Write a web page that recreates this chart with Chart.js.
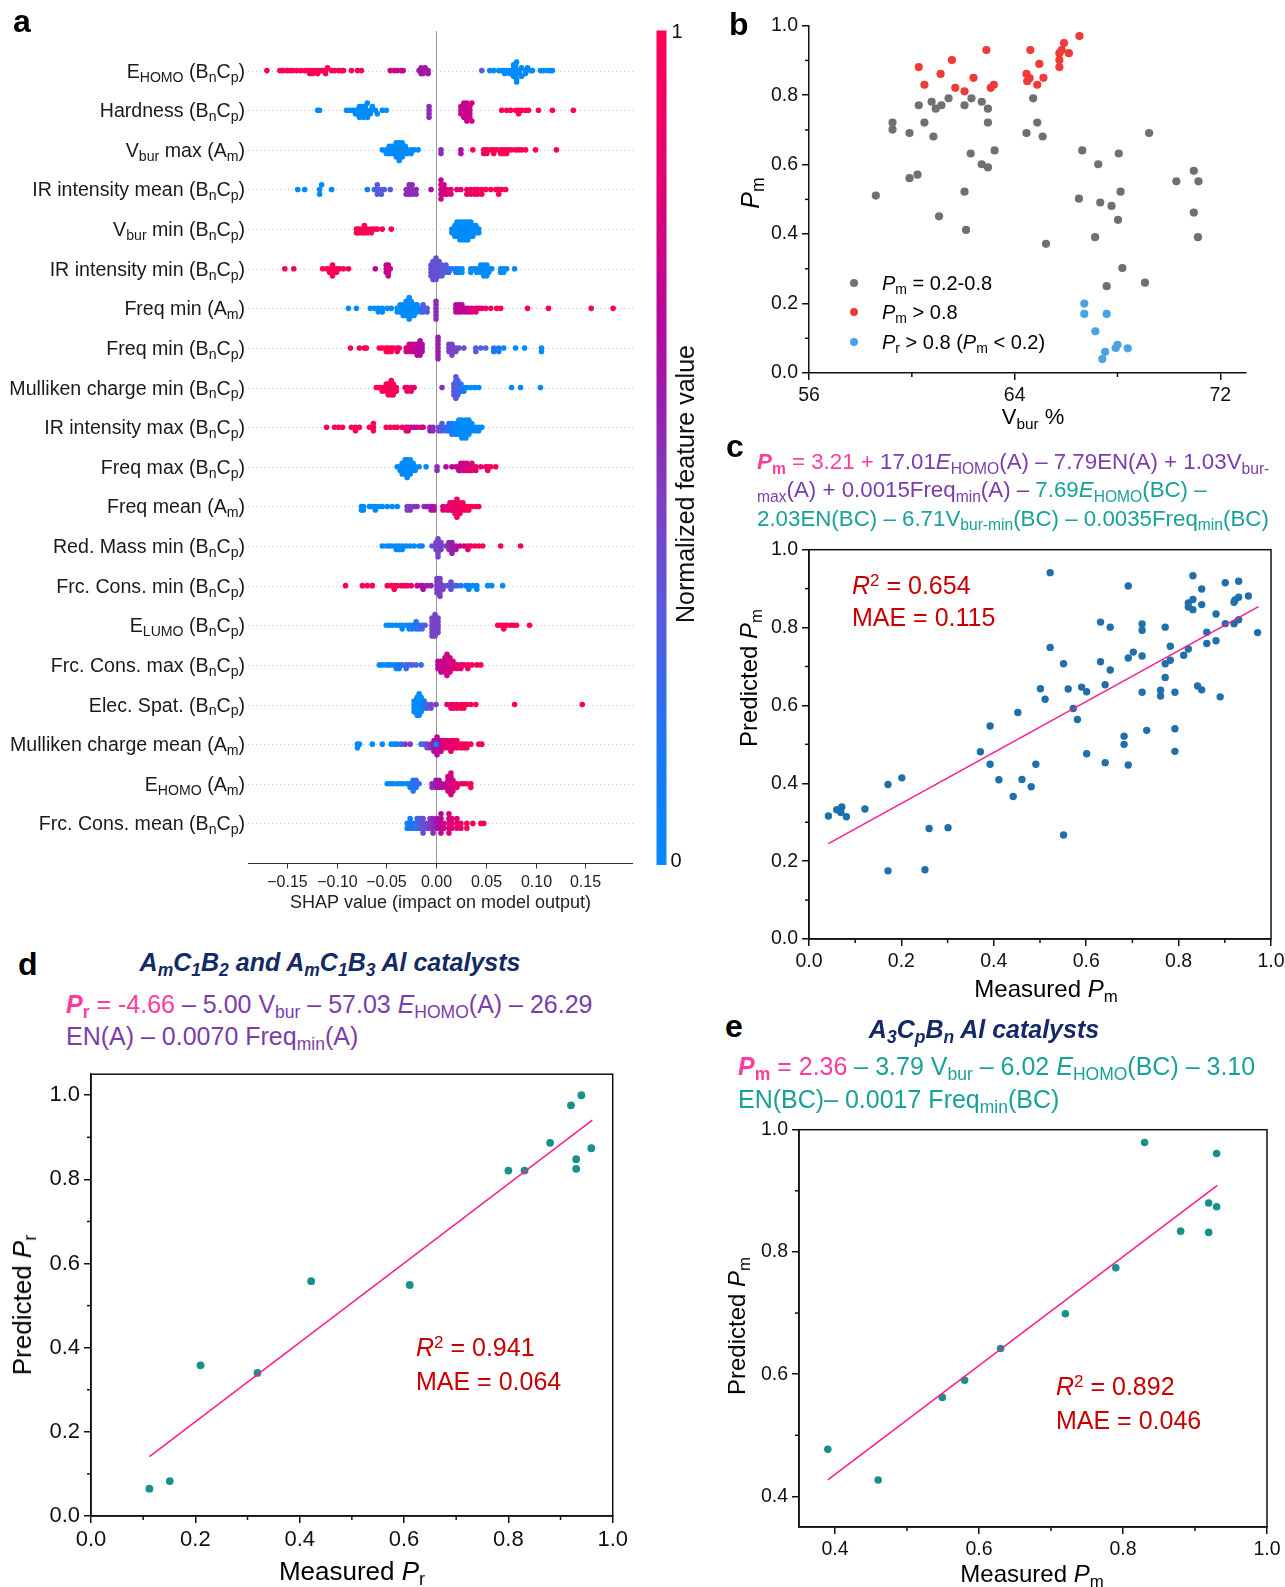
<!DOCTYPE html>
<html>
<head>
<meta charset="utf-8">
<script src="https://cdn.jsdelivr.net/npm/chart.js@4.4.1/dist/chart.umd.min.js"></script>
<style>
  body { margin: 0; background: #fff; }
  #fig { position: relative; width: 1285px; height: 1587px; overflow: hidden;
         font-family: 'Liberation Sans', Arial, sans-serif; color: #000; background: #fff; }
  canvas { position: absolute; }
  .t { position: absolute; white-space: nowrap; }
  .c { transform: translate(-50%, -50%); line-height: 1; }
  .rot { transform: translate(-50%, -50%) rotate(-90deg); line-height: 1; }
  .letter { font-weight: bold; font-size: 32px; line-height: 32px; }
  sub { font-size: 0.7em; vertical-align: baseline; position: relative; top: 0.3em; }
  sup { font-size: 0.68em; vertical-align: baseline; position: relative; top: -0.48em; }
  .pink { color: #ff3b9d; }
  .purple { color: #7c3cab; }
  .teal { color: #17a199; }
  .navy { color: #142a66; font-weight: bold; font-style: italic; font-size: 25px; }
  .rr { color: #c80000; font-size: 25px; }
  .dot { position: absolute; width: 8px; height: 8px; border-radius: 50%; }
</style>
</head>
<body>
<div id="fig">
  <canvas id="chartA"></canvas>
  <canvas id="chartB"></canvas>
  <canvas id="chartC"></canvas>
  <canvas id="chartD"></canvas>
  <canvas id="chartE"></canvas>

  <!-- panel letters -->
  <div class="t letter" style="left:13px;top:5px">a</div>
  <div class="t letter" style="left:729px;top:8px">b</div>
  <div class="t letter" style="left:726px;top:430px">c</div>
  <div class="t letter" style="left:18px;top:948px">d</div>
  <div class="t letter" style="left:725px;top:1010px">e</div>

  <!-- panel b labels + legend -->
  <div class="t rot" style="left:750px;top:193px;font-size:25px"><i>P</i><sub>m</sub></div>
  <div class="t c" style="left:1033px;top:417px;font-size:22px">V<sub>bur</sub> %</div>
  <span class="dot" style="left:850px;top:279px;background:#707070"></span>
  <span class="dot" style="left:850px;top:308px;background:#ee3b38"></span>
  <span class="dot" style="left:850px;top:338px;background:#4aa4e2"></span>
  <div class="t" style="left:882px;top:272px;font-size:20px;line-height:22px"><i>P</i><sub>m</sub> = 0.2-0.8</div>
  <div class="t" style="left:882px;top:301px;font-size:20px;line-height:22px"><i>P</i><sub>m</sub> &gt; 0.8</div>
  <div class="t" style="left:882px;top:331px;font-size:20px;line-height:22px"><i>P</i><sub>r</sub> &gt; 0.8 (<i>P</i><sub>m</sub> &lt; 0.2)</div>

  <!-- panel c -->
  <div class="t" style="left:757px;top:449px;font-size:22.3px;line-height:26.3px">
    <span class="pink"><b><i>P</i><sub>m</sub></b> = 3.21 + </span><span class="purple">17.01<i>E</i><sub>HOMO</sub>(A) – 7.79EN(A) + 1.03V<sub>bur-</sub></span><br>
    <span class="purple"><sub>max</sub>(A) + 0.0015Freq<sub>min</sub>(A) – </span><span class="teal">7.69<i>E</i><sub>HOMO</sub>(BC) –</span><br>
    <span class="teal">2.03EN(BC) – 6.71V<sub>bur-min</sub>(BC) – 0.0035Freq<sub>min</sub>(BC)</span>
  </div>
  <div class="t rr" style="left:852px;top:571px;line-height:29px"><i>R</i><sup>2</sup> = 0.654<br>MAE = 0.115</div>
  <div class="t c" style="left:1046px;top:989px;font-size:24px">Measured <i>P</i><sub>m</sub></div>
  <div class="t rot" style="left:749px;top:678px;font-size:24px">Predicted <i>P</i><sub>m</sub></div>

  <!-- panel d -->
  <div class="t c navy" style="left:330px;top:962px">A<sub>m</sub>C<sub>1</sub>B<sub>2</sub> and A<sub>m</sub>C<sub>1</sub>B<sub>3</sub> Al catalysts</div>
  <div class="t" style="left:66px;top:990px;font-size:25px;line-height:29px">
    <span class="pink"><b><i>P</i><sub>r</sub></b> = -4.66</span><span class="purple"> – 5.00 V<sub>bur</sub> – 57.03 <i>E</i><sub>HOMO</sub>(A) – 26.29</span><br>
    <span class="purple">EN(A) – 0.0070 Freq<sub>min</sub>(A)</span>
  </div>
  <div class="t rr" style="left:416px;top:1332px;line-height:31px"><i>R</i><sup>2</sup> = 0.941<br>MAE = 0.064</div>
  <div class="t c" style="left:352px;top:1571px;font-size:26px">Measured <i>P</i><sub>r</sub></div>
  <div class="t rot" style="left:22px;top:1305px;font-size:26px">Predicted <i>P</i><sub>r</sub></div>

  <!-- panel e -->
  <div class="t c navy" style="left:984px;top:1029px">A<sub>3</sub>C<sub>p</sub>B<sub>n</sub> Al catalysts</div>
  <div class="t" style="left:738px;top:1052px;font-size:25px;line-height:29.5px">
    <span class="pink"><b><i>P</i><sub>m</sub></b> = 2.36</span><span class="teal"> – 3.79 V<sub>bur</sub> – 6.02 <i>E</i><sub>HOMO</sub>(BC) – 3.10</span><br>
    <span class="teal">EN(BC)– 0.0017 Freq<sub>min</sub>(BC)</span>
  </div>
  <div class="t rr" style="left:1056px;top:1371px;line-height:30px"><i>R</i><sup>2</sup> = 0.892<br>MAE = 0.046</div>
  <div class="t c" style="left:1032px;top:1574px;font-size:24px">Measured <i>P</i><sub>m</sub></div>
  <div class="t rot" style="left:737px;top:1326px;font-size:24px">Predicted <i>P</i><sub>m</sub></div>
</div>

<script>
/* ================== DATA: panel a (SHAP beeswarm) ================== */
const featureLabels = [
  "E_{HOMO} (B_{n}C_{p})", "Hardness (B_{n}C_{p})", "V_{bur} max (A_{m})",
  "IR intensity mean (B_{n}C_{p})", "V_{bur} min (B_{n}C_{p})", "IR intensity min (B_{n}C_{p})",
  "Freq min (A_{m})", "Freq min (B_{n}C_{p})", "Mulliken charge min (B_{n}C_{p})",
  "IR intensity max (B_{n}C_{p})", "Freq max (B_{n}C_{p})", "Freq mean (A_{m})",
  "Red. Mass min (B_{n}C_{p})", "Frc. Cons. min (B_{n}C_{p})", "E_{LUMO} (B_{n}C_{p})",
  "Frc. Cons. max (B_{n}C_{p})", "Elec. Spat. (B_{n}C_{p})", "Mulliken charge mean (A_{m})",
  "E_{HOMO} (A_{m})", "Frc. Cons. mean (B_{n}C_{p})"
];
const shapTicks = [-0.15, -0.10, -0.05, 0, 0.05, 0.10, 0.15];
const shapTickLabels = ["\u22120.15", "\u22120.10", "\u22120.05", "0.00", "0.05", "0.10", "0.15"];

// each point: [SHAP value, normalized feature value, count]
const shapRows = [
  [[-0.170,1],[-0.157,1],[-0.154,1],[-0.150,1],[-0.147,1],[-0.144,1],[-0.140,0.98],[-0.136,1],[-0.132,1],[-0.129,0.98],[-0.127,1,2],[-0.124,1,2],[-0.121,1],[-0.119,0.97,2],[-0.116,1],[-0.114,1],[-0.111,0.97,2],[-0.109,1],[-0.105,1],[-0.102,0.97],[-0.098,1],[-0.095,1],[-0.093,1],[-0.085,1],[-0.079,1],[-0.075,0.97],
   [-0.046,0.75],[-0.042,0.75],[-0.039,0.72],[-0.035,0.72],[-0.033,0.72],
   [-0.017,0.6],[-0.015,0.58,3],[-0.013,0.58,2],[-0.011,0.6],[-0.008,0.6,2],
   [0.046,0.3],[0.054,0.05],[0.058,0],[0.063,0],[0.066,0],[0.069,0,2],[0.071,0],[0.074,0,2],[0.076,0,2],[0.078,0,3],[0.080,0,5],[0.081,0,3],[0.084,0,2],[0.086,0,2],[0.090,0,2],[0.092,0],[0.095,0],[0.097,0],[0.105,0],[0.108,0],[0.112,0],[0.115,0],[0.117,0]],
  [[-0.119,0],[-0.117,0],[-0.090,0],[-0.087,0],[-0.084,0],[-0.081,0,2],[-0.079,0,2],[-0.077,0,2],[-0.075,0,3],[-0.073,0,4],[-0.071,0,3],[-0.069,0,2],[-0.066,0,2],[-0.064,0],[-0.061,0],[-0.059,0],[-0.054,0],[-0.050,0],
   [-0.007,0.5,4],
   [0.025,0.72,3],[0.028,0.72,5],[0.031,0.72,6],[0.034,0.72,4],[0.036,0.75,2],
   [0.066,1],[0.071,1],[0.075,1],[0.080,1],[0.083,1,2],[0.086,1],[0.090,1],[0.093,1],[0.103,1],[0.117,1],[0.138,1]],
  [[-0.054,0],[-0.050,0,2],[-0.047,0,3],[-0.044,0,3],[-0.040,0,5],[-0.037,0,6],[-0.034,0,5],[-0.031,0,3],[-0.029,0,2],[-0.025,0,2],[-0.022,0],[-0.018,0],
   [0.005,0.5,2],[0.025,0.62,2],
   [0.037,1],[0.048,0.9,2],[0.051,0.95,2],[0.055,1],[0.058,1,2],[0.061,1],[0.065,1,2],[0.068,1,2],[0.071,1,2],[0.073,1],[0.076,1],[0.080,1],[0.083,1],[0.086,1],[0.090,1],[0.100,1],[0.121,1]],
  [[-0.139,0],[-0.132,0],[-0.117,0,2],[-0.115,0],[-0.105,0],
   [-0.069,0.1],[-0.062,0.25],[-0.059,0.3,3],[-0.055,0.3,2],[-0.052,0.3],[-0.046,0.3],
   [-0.030,0.5,2],[-0.027,0.5,3],[-0.024,0.5,3],[-0.020,0.5,2],[-0.005,0.62],
   [0.005,0.72,5],[0.008,0.75,3],[0.011,0.8,2],[0.015,0.82,2],[0.021,0.85],[0.025,0.88],[0.031,0.9,2],[0.035,0.92,2],[0.039,0.9,2],[0.042,0.95,2],[0.046,0.95,2],[0.050,1],[0.055,1],[0.060,1],[0.063,1,2],[0.066,1],[0.070,1]],
  [[-0.080,1,2],[-0.078,1,2],[-0.075,1,2],[-0.072,1,3],[-0.069,1,2],[-0.065,1,2],[-0.062,1],[-0.059,1],[-0.054,0.97],[-0.045,1],
   [0.016,0,2],[0.019,0,4],[0.021,0,5],[0.024,0,6],[0.027,0,6],[0.030,0,6],[0.032,0,6],[0.035,0,5],[0.037,0,4],[0.040,0,3],[0.043,0,2]],
  [[-0.152,1],[-0.143,1],[-0.114,1],[-0.110,1],[-0.107,1,2],[-0.104,1,4],[-0.100,1,2],[-0.097,1],[-0.093,1],[-0.088,1],
   [-0.061,0.72],[-0.050,0.72,3],[-0.048,0.72,4],[-0.046,0.75],
   [-0.005,0.35,4],[-0.003,0.35,6],[0.000,0.35,7],[0.003,0.35,5],[0.006,0.3,4],[0.010,0.3,3],[0.013,0.25,2],
   [0.016,0.15],[0.020,0.1,2],[0.023,0.05,2],[0.026,0,2],[0.035,0,2],[0.038,0],[0.041,0,2],[0.045,0,3],[0.048,0,4],[0.051,0,4],[0.053,0,2],[0.056,0],[0.065,0,2],[0.068,0,2],[0.071,0],[0.079,0]],
  [[-0.088,0],[-0.080,0],[-0.066,0],[-0.062,0],[-0.058,0,2],[-0.054,0,2],[-0.049,0],[-0.045,0],[-0.039,0,2],[-0.036,0,3],[-0.033,0,4],[-0.030,0,5],[-0.027,0,7],[-0.025,0,5],[-0.022,0,4],[-0.019,0,3],[-0.015,0.1,2],[-0.013,0.25,3],[-0.009,0.3,2],
   [0.000,0.5,6],
   [0.020,0.68,3],[0.023,0.68,3],[0.026,0.7,3],[0.030,0.7,2],[0.033,0.75,2],[0.036,0.78,2],[0.040,0.8,2],[0.043,0.85],[0.046,0.85],[0.050,0.9],[0.055,0.95],[0.061,1],[0.065,1],[0.092,1],[0.113,1],[0.156,1],[0.178,1]],
  [[-0.086,1],[-0.077,1],[-0.072,1],[-0.070,1],[-0.057,1],[-0.054,1],[-0.050,1,2],[-0.048,1,2],[-0.045,1,2],[-0.043,0.95],[-0.039,0.95,2],[-0.037,0.9],
   [-0.030,0.82,2],[-0.027,0.78,3],[-0.024,0.72,3],[-0.021,0.7,3],[-0.019,0.68,4],[-0.016,0.65,5],[-0.014,0.65,3],
   [0.002,0.55,7],
   [0.013,0.42,3],[0.016,0.42,4],[0.020,0.4,2],[0.023,0.38],[0.028,0.35],[0.040,0.3,2],[0.045,0.28],[0.050,0.25],[0.058,0.15,2],[0.063,0.1,2],[0.068,0.05],[0.080,0],[0.089,0],[0.106,0,2]],
  [[-0.060,1],[-0.057,1],[-0.054,1,2],[-0.050,1,3],[-0.048,1,4],[-0.045,1,5],[-0.043,1,4],[-0.040,0.97,2],[-0.031,0.9],[-0.029,0.9,2],[-0.025,0.88,2],[-0.022,0.85],
   [0.006,0.5],
   [0.018,0.3,4],[0.020,0.3,7],[0.022,0.25,5],[0.025,0.2,3],[0.028,0.12,2],[0.031,0.05],[0.035,0],[0.039,0],[0.043,0],[0.076,0],[0.085,0],[0.105,0]],
  [[-0.110,1],[-0.102,1],[-0.098,1],[-0.094,1],[-0.085,1],[-0.081,1,2],[-0.077,1],[-0.067,1],[-0.063,1,3],[-0.050,1],[-0.046,1],[-0.042,1],[-0.039,0.97],[-0.034,0.9],[-0.030,0.85,2],[-0.028,0.85,2],[-0.025,0.7],[-0.022,0.6],[-0.019,0.8],[-0.015,0.8],[-0.013,0.75],[-0.006,0.6,2],[-0.003,0.5,2],
   [0.003,0.4,2],[0.006,0.3,3],[0.010,0.2,2],[0.013,0.15,3],[0.016,0.1,4],[0.020,0.05,4],[0.023,0,5],[0.026,0,6],[0.030,0,6],[0.033,0,5],[0.036,0,3],[0.040,0,2],[0.043,0,2],[0.046,0]],
  [[-0.039,0],[-0.036,0,2],[-0.034,0,4],[-0.031,0,5],[-0.029,0,6],[-0.026,0,5],[-0.023,0,3],[-0.021,0,2],[-0.017,0],[-0.010,0.05],
   [0.001,0.5,2],[0.010,0.62],
   [0.016,0.7],[0.020,0.72],[0.023,0.72,2],[0.025,0.72,3],[0.028,0.75,3],[0.031,0.8,3],[0.033,0.8,2],[0.036,0.8,3],[0.040,0.85,2],[0.045,0.88],[0.050,0.92],[0.052,0.92,2],[0.055,0.95],[0.060,1]],
  [[-0.075,0,2],[-0.073,0,2],[-0.067,0],[-0.064,0],[-0.061,0,2],[-0.058,0],[-0.054,0],[-0.049,0],[-0.044,0],[-0.039,0.05],
   [-0.029,0.4,2],[-0.026,0.45,2],[-0.022,0.45],[-0.019,0.5],[-0.012,0.5],[-0.009,0.55],[-0.005,0.6,2],[-0.002,0.62,2],
   [0.007,0.8,2],[0.011,0.82,2],[0.014,0.85,3],[0.016,0.88,3],[0.019,0.9,4],[0.021,0.92,6],[0.024,0.92,4],[0.027,0.95,3],[0.030,0.95,2],[0.033,1,2],[0.036,1],[0.040,1],[0.043,1]],
  [[-0.054,0],[-0.050,0],[-0.047,0],[-0.044,0],[-0.040,0,2],[-0.037,0,2],[-0.034,0,2],[-0.030,0],[-0.026,0],[-0.022,0],[-0.017,0],[-0.014,0.05],
   [-0.004,0.3],[0.000,0.4,3],[0.002,0.4,6],[0.005,0.42,3],[0.010,0.45],
   [0.013,0.5,3],[0.016,0.55,4],[0.020,0.6,2],[0.024,0.7],[0.028,0.75],[0.032,0.85,2],[0.035,0.9],[0.039,0.95],[0.043,1],[0.047,1],[0.065,1],[0.085,1]],
  [[-0.091,1],[-0.074,1],[-0.069,1],[-0.064,1],[-0.049,1],[-0.045,1],[-0.042,1,2],[-0.039,1],[-0.035,1],[-0.032,0.95],[-0.029,0.92],[-0.025,0.9],
   [-0.019,0.7],[-0.015,0.65],[-0.013,0.6,2],[-0.009,0.55],[-0.005,0.55],
   [0.001,0.45,5],[0.004,0.42,6],[0.007,0.4,2],[0.011,0.35],[0.015,0.35,3],[0.018,0.3],[0.021,0.22],[0.025,0.15],[0.030,0.1],[0.033,0.05,2],[0.037,0],[0.041,0,2],[0.052,0],[0.056,0],[0.067,0]],
  [[-0.050,0],[-0.047,0],[-0.044,0],[-0.040,0],[-0.037,0],[-0.034,0,2],[-0.030,0],[-0.027,0.05,2],[-0.024,0.1,2],[-0.020,0.15,3],[-0.017,0.2,2],[-0.014,0.25,2],[-0.011,0.3],
   [-0.004,0.4,6],[-0.001,0.4,7],[0.002,0.42,5],
   [0.062,1],[0.065,1],[0.068,1,2],[0.071,1],[0.075,1],[0.078,1],[0.081,1],[0.094,1]],
  [[-0.057,0],[-0.054,0],[-0.050,0],[-0.047,0],[-0.044,0.05],[-0.040,0.05,2],[-0.037,0.1,2],[-0.034,0.2],[-0.030,0.2,2],[-0.027,0.3],[-0.024,0.3],[-0.020,0.25],[-0.015,0.2],
   [0.002,0.65,3],[0.005,0.7,4],[0.009,0.7,5],[0.011,0.75,7],[0.014,0.75,5],[0.017,0.8,3],[0.021,0.85,2],[0.025,0.85,2],[0.028,0.9],[0.032,0.9,2],[0.036,0.95],[0.041,1],[0.045,1]],
  [[-0.022,0,4],[-0.019,0,6],[-0.017,0,7],[-0.015,0,5],[-0.012,0.15,3],[-0.009,0.25,2],[-0.005,0.4,2],[0.000,0.45],
   [0.011,0.8],[0.015,0.85,2],[0.018,0.9,2],[0.021,0.92,2],[0.025,0.95,2],[0.028,0.95,2],[0.031,1],[0.035,1],[0.040,1],[0.079,1],[0.147,1]],
  [[-0.079,0,2],[-0.077,0],[-0.064,0],[-0.054,0],[-0.045,0],[-0.042,0],[-0.039,0.05],[-0.035,0.2],[-0.031,0.45],[-0.026,0.45],[-0.015,0.1],[-0.012,0.3],[-0.009,0.4,2],[-0.005,0.5,2],
   [-0.002,0.6,4],[0.001,0.65,6],[0.005,0.7,4],[0.008,0.8,3],[0.011,0.8,3],[0.015,0.85,4],[0.018,0.85,3],[0.021,0.9,3],[0.025,0.92,2],[0.028,0.95,2],[0.031,0.95,2],[0.035,1],[0.043,1],[0.046,1],[0.000,0]],
  [[-0.049,0],[-0.046,0],[-0.043,0],[-0.039,0],[-0.036,0],[-0.033,0],[-0.029,0.1],[-0.026,0.1,2],[-0.023,0.15,4],[-0.020,0.2,3],[-0.017,0.2],
   [-0.004,0.5,2],[0.000,0.55,3],[0.003,0.6,3],[0.006,0.65,2],[0.010,0.7,2],[0.012,0.75,5],[0.015,0.75,7],[0.017,0.8,4],[0.021,0.85,2],[0.025,0.9],[0.028,0.9],[0.031,0.95],[0.035,1,2]],
  [[-0.029,0.05,2],[-0.026,0.1,3],[-0.023,0.15,2],[-0.019,0.2,3],[-0.016,0.3,3],[-0.013,0.35,4],[-0.009,0.4,2],[-0.006,0.45,3],[-0.003,0.5,4],
   [0.001,0.6,3],[0.005,0.7,5],[0.008,0.75,2],[0.013,0.8,5],[0.016,0.8,3],[0.021,0.85,3],[0.025,0.9,2],[0.031,0.95,2],[0.037,1],[0.045,1],[0.048,1]]
];

/* ================== DATA: panel b ================== */
const bGray = [[58.60,0.511],[59.25,0.721],[59.25,0.701],[59.91,0.691],[59.91,0.561],[60.22,0.571],[60.27,0.771],[60.49,0.721],[60.77,0.781],[60.84,0.681],[60.93,0.761],[61.06,0.451],[61.15,0.771],[61.43,0.791],[62.05,0.771],[62.05,0.522],[62.11,0.412],[62.29,0.632],[62.32,0.791],[62.72,0.781],[62.72,0.601],[62.96,0.761],[62.96,0.721],[62.96,0.592],[63.22,0.641],[64.46,0.691],[64.72,0.791],[64.88,0.721],[65.09,0.681],[65.22,0.372],[66.50,0.502],[66.63,0.641],[67.13,0.391],[67.25,0.601],[67.33,0.491],[67.58,0.250],[67.77,0.481],[68.02,0.441],[68.05,0.632],[68.12,0.522],[68.19,0.302],[69.07,0.260],[69.23,0.691],[70.29,0.552],[70.97,0.582],[70.97,0.462],[71.15,0.552],[71.13,0.391]];
const bRed = [[60.27,0.881],[60.49,0.830],[61.12,0.861],[61.56,0.901],[61.69,0.821],[62.05,0.811],[62.40,0.850],[62.90,0.930],[63.07,0.821],[63.19,0.830],[64.61,0.930],[64.46,0.861],[64.49,0.840],[64.58,0.849],[64.88,0.830],[64.96,0.890],[65.12,0.850],[65.74,0.881],[65.74,0.901],[65.74,0.921],[65.83,0.930],[65.92,0.950],[66.11,0.921],[66.52,0.970]];
const bBlue = [[66.71,0.200],[66.71,0.170],[67.58,0.170],[67.14,0.120],[67.52,0.061],[67.41,0.040],[67.93,0.072],[68.00,0.081],[68.40,0.071]];
const bXTicks = [56, 64, 72], bXMinor = [60, 68];
const bYTicks = [0, 0.2, 0.4, 0.6, 0.8, 1.0], bYMinor = [0.1, 0.3, 0.5, 0.7, 0.9];

/* ================== DATA: panel c ================== */
const cPoints = [[0.042,0.316],[0.060,0.332],[0.071,0.339],[0.069,0.325],[0.081,0.314],[0.121,0.334],[0.171,0.397],[0.201,0.414],[0.171,0.175],[0.251,0.178],[0.260,0.284],[0.301,0.286],[0.371,0.481],[0.392,0.547],[0.392,0.449],[0.411,0.409],[0.442,0.366],[0.452,0.582],[0.461,0.410],[0.481,0.391],[0.491,0.449],[0.501,0.643],[0.511,0.616],[0.522,0.941],[0.522,0.749],[0.551,0.707],[0.551,0.267],[0.561,0.642],[0.572,0.592],[0.581,0.564],[0.590,0.647],[0.601,0.635],[0.601,0.476],[0.631,0.814],[0.631,0.712],[0.641,0.653],[0.641,0.453],[0.652,0.801],[0.652,0.691],[0.682,0.521],[0.682,0.500],[0.691,0.907],[0.691,0.722],[0.691,0.447],[0.702,0.737],[0.721,0.809],[0.721,0.793],[0.721,0.727],[0.721,0.634],[0.731,0.536],[0.761,0.639],[0.761,0.624],[0.771,0.801],[0.771,0.707],[0.771,0.672],[0.782,0.752],[0.782,0.716],[0.792,0.634],[0.792,0.540],[0.792,0.482],[0.811,0.729],[0.821,0.745],[0.821,0.863],[0.821,0.853],[0.831,0.933],[0.831,0.872],[0.831,0.846],[0.841,0.650],[0.850,0.899],[0.850,0.859],[0.850,0.640],[0.861,0.788],[0.861,0.759],[0.881,0.835],[0.881,0.766],[0.890,0.622],[0.901,0.915],[0.901,0.810],[0.920,0.865],[0.920,0.810],[0.930,0.919],[0.930,0.878],[0.930,0.820],[0.951,0.881],[0.971,0.787],[0.922,0.871]];
const cFit = [[0.042,0.245],[0.973,0.854]];
const unitTicks = [0, 0.2, 0.4, 0.6, 0.8, 1.0], unitMinor = [0.1, 0.3, 0.5, 0.7, 0.9];

/* ================== DATA: panel d ================== */
const dPoints = [[0.112,0.065],[0.151,0.083],[0.210,0.358],[0.319,0.340],[0.422,0.558],[0.611,0.549],[0.800,0.821],[0.831,0.821],[0.880,0.887],[0.920,0.976],[0.940,1.000],[0.930,0.848],[0.930,0.825],[0.959,0.874]];
const dFit = [[0.112,0.141],[0.961,0.941]];

/* ================== DATA: panel e ================== */
const ePoints = [[0.390,0.477],[0.460,0.427],[0.549,0.562],[0.580,0.590],[0.630,0.642],[0.720,0.699],[0.790,0.774],[0.830,0.979],[0.880,0.834],[0.919,0.832],[0.919,0.880],[0.930,0.874],[0.930,0.961]];
const eFit = [[0.390,0.427],[0.931,0.909]];
const eTicks = [0.4, 0.6, 0.8, 1.0], eMinor = [0.5, 0.7, 0.9];

/* ================== SETUP ================== */
const FONT = "'Liberation Sans', Arial, sans-serif";
Chart.defaults.font.family = FONT;
Chart.defaults.animation = false;
Chart.defaults.events = [];
Chart.defaults.plugins.legend.display = false;
Chart.defaults.plugins.tooltip.enabled = false;

/* ---- shap colour map (blue -> purple -> red) ---- */
const CMAP = [
  [0.00, [0, 139, 251]], [0.15, [30, 118, 244]], [0.30, [88, 90, 222]],
  [0.45, [128, 60, 192]], [0.55, [152, 30, 174]], [0.65, [180, 8, 158]],
  [0.80, [222, 0, 120]], [1.00, [255, 0, 82]]
];
function cmap(v) {
  for (let i = 1; i < CMAP.length; i++) {
    if (v <= CMAP[i][0]) {
      const [a0, c0] = CMAP[i - 1], [a1, c1] = CMAP[i];
      const t = (v - a0) / (a1 - a0);
      const c = c0.map((k, j) => Math.round(k + (c1[j] - k) * t));
      return `rgb(${c[0]},${c[1]},${c[2]})`;
    }
  }
  return "rgb(255,0,82)";
}

/* beeswarm offsets, same binning idea as shap.summary_plot */
function beeswarm(xs) {
  const nbins = 100;
  const mn = Math.min(...xs), mx = Math.max(...xs);
  const quant = xs.map((v) => Math.round((nbins * (v - mn)) / (mx - mn + 1e-8)));
  const inds = xs.map((_, i) => i).sort((a, b) => quant[a] - quant[b] || a - b);
  const ys = new Array(xs.length).fill(0);
  let layer = 0, last = -1;
  for (const i of inds) {
    if (quant[i] !== last) layer = 0;
    ys[i] = Math.ceil(layer / 2) * ((layer % 2) * 2 - 1);
    layer++;
    last = quant[i];
  }
  const m = Math.max(...ys.map((y) => y + 1));
  return ys.map((y) => y * 0.9 * (0.4 / m));
}

/* draw "E_{HOMO} (B_{n}C_{p})" style text */
function parseRich(s) {
  const segs = [], re = /_\{([^}]*)\}/g;
  let last = 0, m;
  while ((m = re.exec(s))) {
    if (m.index > last) segs.push({ t: s.slice(last, m.index) });
    segs.push({ t: m[1], sub: true });
    last = re.lastIndex;
  }
  if (last < s.length) segs.push({ t: s.slice(last) });
  return segs;
}
function drawRich(ctx, s, x, y, size, align) {
  const segs = parseRich(s);
  const fontOf = (g) => `${g.sub ? size * 0.72 : size}px ${FONT}`;
  let w = 0;
  for (const g of segs) { ctx.font = fontOf(g); w += ctx.measureText(g.t).width; }
  let cx = align === "right" ? x - w : align === "center" ? x - w / 2 : x;
  ctx.textAlign = "left";
  ctx.textBaseline = "alphabetic";
  for (const g of segs) {
    ctx.font = fontOf(g);
    ctx.fillText(g.t, cx, g.sub ? y + size * 0.2 : y);
    cx += ctx.measureText(g.t).width;
  }
}

/* ================== PANEL A ================== */
const shapDecor = {
  id: "shapDecor",
  beforeDatasetsDraw(chart) {
    const { ctx, chartArea: a, scales: { x, y } } = chart;
    ctx.save();
    ctx.strokeStyle = "#c8c8c8";
    ctx.lineWidth = 1;
    ctx.setLineDash([1, 3]);
    featureLabels.forEach((_, i) => {
      const py = Math.round(y.getPixelForValue(i)) + 0.5;
      ctx.beginPath(); ctx.moveTo(a.left, py); ctx.lineTo(a.right, py); ctx.stroke();
    });
    ctx.setLineDash([]);
    ctx.strokeStyle = "#999999";
    const px = Math.round(x.getPixelForValue(0)) + 0.5;
    ctx.beginPath(); ctx.moveTo(px, a.top); ctx.lineTo(px, a.bottom); ctx.stroke();
    ctx.restore();
  },
  afterDatasetsDraw(chart) {
    const { ctx, chartArea: a, scales: { x, y } } = chart;
    ctx.save();
    ctx.fillStyle = "#1a1a1a";
    // feature labels
    featureLabels.forEach((lab, i) => {
      drawRich(ctx, lab, a.left - 3, y.getPixelForValue(i) + 7, 19.6, "right");
    });
    // bottom axis
    ctx.strokeStyle = "#333";
    ctx.lineWidth = 1;
    const by = Math.round(a.bottom) + 0.5;
    ctx.beginPath(); ctx.moveTo(a.left, by); ctx.lineTo(a.right, by); ctx.stroke();
    shapTicks.forEach((v, i) => {
      const px = Math.round(x.getPixelForValue(v)) + 0.5;
      ctx.beginPath(); ctx.moveTo(px, by); ctx.lineTo(px, by + 5); ctx.stroke();
      ctx.font = `16px ${FONT}`;
      ctx.textAlign = "center";
      ctx.textBaseline = "alphabetic";
      ctx.fillStyle = "#222";
      ctx.fillText(shapTickLabels[i], px, by + 23);
    });
    ctx.font = `18px ${FONT}`;
    ctx.fillText("SHAP value (impact on model output)", (a.left + a.right) / 2, by + 44);
    // colour bar
    const cbL = 656.5, cbW = 10, cbT = 30.5, cbB = 865;
    const g = ctx.createLinearGradient(0, cbB, 0, cbT);
    for (let i = 0; i <= 20; i++) g.addColorStop(i / 20, cmap(i / 20));
    ctx.fillStyle = g;
    ctx.fillRect(cbL, cbT, cbW, cbB - cbT);
    ctx.fillStyle = "#111";
    ctx.font = `20px ${FONT}`;
    ctx.textAlign = "left";
    ctx.fillText("1", cbL + 15, cbT + 7);
    ctx.fillText("0", cbL + 14, cbB + 2);
    ctx.translate(694, 484);
    ctx.rotate(-Math.PI / 2);
    ctx.textAlign = "center";
    ctx.font = `25px ${FONT}`;
    ctx.fillText("Normalized feature value", 0, 0);
    ctx.restore();
  }
};

function buildPanelA() {
  const W = 700, H = 915;
  const cv = document.getElementById("chartA");
  cv.width = W; cv.height = H;
  cv.style.left = "0px"; cv.style.top = "0px";
  cv.style.width = W + "px"; cv.style.height = H + "px";
  const pts = [], cols = [];
  shapRows.forEach((row, r) => {
    const xs = [], cs = [];
    row.forEach((p) => { for (let k = 0; k < (p[2] || 1); k++) { xs.push(p[0]); cs.push(p[1]); } });
    const off = beeswarm(xs);
    xs.forEach((v, i) => { pts.push({ x: v, y: r + off[i] }); cols.push(cmap(cs[i])); });
  });
  new Chart(cv, {
    type: "scatter",
    data: { datasets: [{ data: pts, pointBackgroundColor: cols, pointBorderWidth: 0, pointRadius: 2.8, clip: false }] },
    options: {
      responsive: false,
      layout: { padding: { left: 248, right: W - 633, top: 31, bottom: H - 863 } },
      scales: {
        x: { type: "linear", min: -0.189, max: 0.198, display: false },
        y: { type: "linear", min: -1, max: 20, reverse: true, display: false }
      }
    },
    plugins: [shapDecor]
  });
}

/* ================== PANELS B-E ================== */
const axisExtras = {
  id: "axisExtras",
  afterDraw(chart, args, o) {
    const { ctx, chartArea: a, scales: { x, y } } = chart;
    ctx.save();
    ctx.strokeStyle = "#111";
    ctx.lineWidth = 1.5;
    (o.xMinor || []).forEach((v) => {
      const p = x.getPixelForValue(v);
      ctx.beginPath(); ctx.moveTo(p, a.bottom); ctx.lineTo(p, a.bottom + 4); ctx.stroke();
    });
    (o.yMinor || []).forEach((v) => {
      const p = y.getPixelForValue(v);
      ctx.beginPath(); ctx.moveTo(a.left, p); ctx.lineTo(a.left - 4, p); ctx.stroke();
    });
    if (o.frame) ctx.strokeRect(a.left, a.top, a.right - a.left, a.bottom - a.top);
    ctx.restore();
  }
};

const fmt1 = (v) => v.toFixed(1);
const fmt0 = (v) => String(v);

function axisCfg(min, max, ticks, fmt, size, fit) {
  return {
    type: "linear", min, max,
    afterBuildTicks: (s) => { s.ticks = ticks.map((v) => ({ value: v })); },
    afterFit: fit,
    ticks: { font: { size }, color: "#111", padding: 4, maxRotation: 0, autoSkip: false, callback: (v) => fmt(v) },
    grid: { drawOnChartArea: false, drawTicks: true, tickLength: 7, color: "#111", lineWidth: 1.5 },
    border: { display: true, color: "#111", width: 1.5 }
  };
}

const toXY = (arr) => arr.map(([x, y]) => ({ x, y }));

function scatterPanel(id, area, cfg) {
  const yW = 64, xH = 44, padT = 14, padR = 18;
  const cv = document.getElementById(id);
  const w = area.R - area.L + yW + padR, h = area.B - area.T + padT + xH;
  cv.width = w; cv.height = h;
  cv.style.left = area.L - yW + "px"; cv.style.top = area.T - padT + "px";
  cv.style.width = w + "px"; cv.style.height = h + "px";
  const datasets = [];
  if (cfg.fit) datasets.push({ data: toXY(cfg.fit), showLine: true, borderColor: "#fc1c8c", borderWidth: 1.5, pointRadius: 0, clip: false });
  cfg.series.forEach((s) => datasets.push({
    data: toXY(s.data), pointRadius: s.r, pointBackgroundColor: s.color, pointBorderWidth: 0, clip: false
  }));
  new Chart(cv, {
    type: "scatter",
    data: { datasets },
    options: {
      responsive: false,
      layout: { padding: { left: 0, right: padR, top: padT, bottom: 0 } },
      scales: {
        x: axisCfg(cfg.xMin, cfg.xMax, cfg.xTicks, cfg.xFmt || fmt1, cfg.fs, (s) => { s.height = xH; }),
        y: axisCfg(cfg.yMin, cfg.yMax, cfg.yTicks, fmt1, cfg.fs, (s) => { s.width = yW; })
      },
      plugins: { axisExtras: { xMinor: cfg.xMinor, yMinor: cfg.yMinor, frame: cfg.frame } }
    },
    plugins: [axisExtras]
  });
}

buildPanelA();

scatterPanel("chartB", { L: 809, T: 24, R: 1246, B: 373 }, {
  xMin: 56, xMax: 73, yMin: 0, yMax: 1, xTicks: bXTicks, yTicks: bYTicks,
  xMinor: bXMinor, yMinor: bYMinor, xFmt: fmt0, fs: 19.5, frame: false,
  series: [
    { data: bGray, color: "#707070", r: 4.1 },
    { data: bRed, color: "#ee3b38", r: 4.1 },
    { data: bBlue, color: "#4aa4e2", r: 4.1 }
  ]
});

scatterPanel("chartC", { L: 809, T: 548, R: 1271, B: 939 }, {
  xMin: 0, xMax: 1, yMin: 0, yMax: 1, xTicks: unitTicks, yTicks: unitTicks,
  xMinor: unitMinor, yMinor: unitMinor, fs: 19.5, frame: true, fit: cFit,
  series: [{ data: cPoints, color: "#1f6fab", r: 3.7 }]
});

scatterPanel("chartD", { L: 91, T: 1071, R: 614, B: 1516 }, {
  xMin: 0, xMax: 1, yMin: 0, yMax: 1.05, xTicks: unitTicks, yTicks: unitTicks,
  xMinor: unitMinor, yMinor: unitMinor, fs: 22, frame: true, fit: dFit,
  series: [{ data: dPoints, color: "#18918c", r: 3.9 }]
});

scatterPanel("chartE", { L: 799, T: 1128, R: 1267, B: 1527 }, {
  xMin: 0.35, xMax: 1, yMin: 0.35, yMax: 1, xTicks: eTicks, yTicks: eTicks,
  xMinor: eMinor, yMinor: eMinor, fs: 19.5, frame: true, fit: eFit,
  series: [{ data: ePoints, color: "#18918c", r: 3.8 }]
});
</script>
</body>
</html>
